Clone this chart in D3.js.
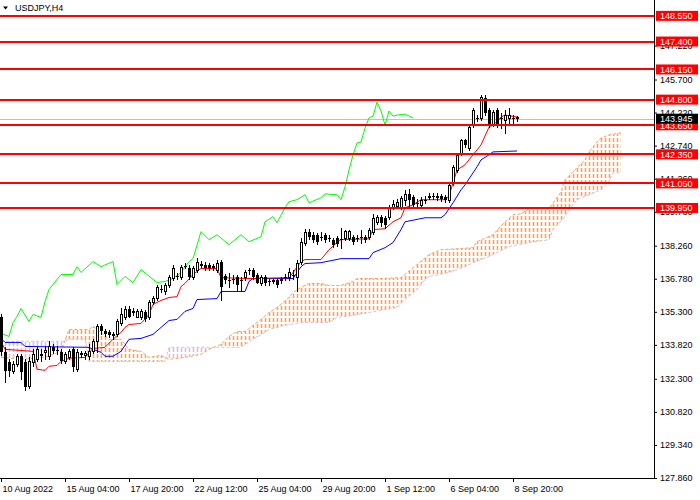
<!DOCTYPE html>
<html lang="en">
<head>
<meta charset="UTF-8">
<title>USDJPY,H4</title>
<style>
  body { margin: 0; background: #fff; }
  svg { display: block; font-family: "Liberation Sans", Arial, sans-serif; font-size: 9px; }
</style>
</head>
<body>
<div id="chart"></div>
<script src="https://cdn.jsdelivr.net/npm/d3@7"></script>
<script>
const width = 700
const height = 500
const plotW = 654
const plotH = 478

// H4 candles, bar 0 = 10 Aug 12:00 ... bar 129 = 9 Sep 00:00
const open = [135.05,133.49,133.04,132.64,132.95,133.31,133.04,131.97,133.04,133.17,
  133.35,133.49,133.31,133.71,133.57,133.49,133.08,133.26,133.62,132.73,
  133.44,133.35,133.31,133.53,133.98,134.65,134.42,134.38,134.29,134.29,
  134.82,135.05,135.41,135.27,135.09,135.09,135.27,135.09,135.72,135.94,
  136.30,136.21,136.52,136.83,136.92,136.88,137.37,137.28,136.88,137.19,
  137.41,137.41,137.41,137.37,137.19,137.55,136.92,136.74,136.79,136.88,
  136.74,136.88,137.15,137.19,136.97,136.61,136.88,136.70,136.70,136.74,
  136.74,136.88,136.88,136.97,136.88,137.55,138.40,138.89,138.75,138.75,
  138.66,138.75,138.62,138.53,138.62,138.57,138.62,138.62,138.66,138.62,
  138.66,138.66,138.66,138.89,139.33,139.56,139.51,139.56,140.00,140.05,
  140.00,140.32,140.58,140.45,140.18,140.09,140.32,140.45,140.49,140.45,
  140.49,140.45,140.32,141.08,141.65,142.37,142.99,142.64,143.66,143.98,
  143.98,144.87,144.33,143.71,144.33,143.98,143.89,143.98,143.98,144.02]
const high = [135.18,133.71,133.17,133.08,133.40,133.40,133.17,133.26,133.62,133.71,
  133.62,133.75,133.98,133.84,133.75,133.62,133.49,133.62,133.71,133.62,
  133.53,133.53,133.84,134.07,134.74,134.74,134.51,134.47,134.38,134.96,
  135.49,135.54,135.54,135.45,135.41,135.41,135.36,135.85,136.03,136.48,
  136.48,136.57,136.97,137.41,137.06,137.41,137.50,137.41,137.37,137.73,
  137.59,137.55,137.50,137.46,137.64,137.64,137.01,137.06,136.97,136.97,
  136.88,137.19,137.28,137.28,137.06,136.97,136.97,136.79,136.79,136.79,
  136.88,137.01,137.28,137.19,137.64,138.62,139.02,139.02,138.89,138.84,
  138.89,138.84,138.75,138.62,138.71,139.07,138.98,138.98,138.75,138.75,
  138.98,138.75,139.07,139.69,139.65,139.65,139.60,140.09,140.32,140.36,
  140.49,140.76,140.81,140.54,140.36,140.45,140.49,140.63,140.63,140.63,
  140.58,140.54,141.03,141.88,142.37,143.04,143.04,143.66,144.42,144.11,
  145.00,145.00,144.42,144.33,144.42,144.20,144.33,144.42,144.11,144.07]
const low = [133.35,132.15,132.41,132.55,132.86,132.28,131.79,131.88,132.86,133.08,
  133.08,133.17,133.17,133.44,133.40,132.99,132.99,133.17,132.64,132.64,
  133.26,133.17,133.17,133.44,133.49,134.29,134.20,134.16,134.07,134.20,
  134.69,134.96,135.05,135.14,135.05,135.00,134.87,134.96,135.63,135.85,
  136.17,136.12,136.43,136.74,136.79,136.79,137.24,136.79,136.79,137.10,
  137.32,137.19,137.19,137.19,137.10,135.85,136.61,136.39,136.61,136.21,
  136.21,136.74,137.01,136.79,136.57,136.52,136.52,136.52,136.61,136.43,
  136.61,136.74,136.74,136.79,136.21,137.46,138.31,138.57,138.44,138.35,
  138.53,138.44,138.49,138.22,138.26,138.17,138.53,138.53,138.35,138.49,
  138.40,138.44,138.57,138.80,139.24,139.15,139.07,139.47,139.91,139.96,
  139.91,140.09,140.05,139.96,140.00,140.00,140.18,140.36,140.36,140.32,
  140.27,140.23,140.23,140.98,141.57,142.33,142.68,142.55,143.57,143.84,
  143.89,144.11,143.57,143.62,143.57,143.53,143.31,143.71,143.71,143.84]
const close = [133.49,132.64,132.64,132.95,133.31,132.59,131.92,133.08,133.40,133.62,
  133.40,133.57,133.75,133.53,133.53,133.08,133.40,133.53,132.82,133.49,
  133.35,133.44,133.53,133.98,134.65,134.42,134.29,134.25,134.20,134.87,
  135.18,135.41,135.09,135.32,135.32,135.32,134.96,135.76,135.94,136.39,
  136.28,136.52,136.88,137.28,136.88,137.32,137.35,136.88,137.28,137.55,
  137.46,137.28,137.28,137.28,137.50,136.43,136.74,136.72,136.74,136.52,
  136.70,137.10,137.13,136.88,136.61,136.88,136.61,136.66,136.74,136.52,
  136.76,136.86,137.10,136.95,137.50,138.44,138.89,138.66,138.53,138.44,
  138.64,138.53,138.60,138.31,138.35,138.55,138.93,138.93,138.44,138.60,
  138.64,138.53,138.98,139.51,139.56,139.29,139.20,140.00,140.14,140.23,
  140.40,140.58,140.32,140.09,140.16,140.32,140.30,140.49,140.47,140.49,
  140.36,140.32,140.98,141.79,142.33,142.99,142.77,143.57,144.33,143.93,
  144.91,144.20,143.66,144.24,143.66,143.96,144.11,144.11,143.96,143.945]

// Ichimoku lines as [bar, price]
const tenkan = [[0,133.98],[1,133.62],[8,133.53],[9,132.73],[11,132.68],[12,132.86],[14,132.90],
  [15,133.08],[17,133.22],[21,133.26],[23,133.66],[26,133.71],[28,134.07],[30,134.38],[31,134.60],
  [32,134.73],[35,134.78],[37,135.18],[38,135.63],[40,135.81],[42,135.94],[44,135.98],[45,136.43],
  [46,136.57],[48,136.97],[50,137.24],[54,137.24],[55,136.83],[62,136.79],[72,136.83],[73,137.06],
  [75,137.55],[76,137.64],[80,137.64],[82,138.08],[84,138.40],[85,138.53],[92,138.57],[93,138.98],
  [96,139.02],[98,139.33],[100,139.51],[101,139.96],[103,140.09],[105,140.32],[111,140.32],
  [112,140.49],[114,141.65],[116,141.88],[118,142.33],[120,142.77],[122,143.57],[124,143.80],
  [125,144.02],[126,144.11],[129,144.02]]
const kijun = [[0,134.11],[1,133.93],[5,133.93],[6,133.75],[22,133.71],[23,133.62],[25,133.49],
  [26,133.31],[28,133.31],[30,133.53],[32,134.07],[35,134.11],[38,134.29],[40,134.60],[42,134.91],
  [44,134.96],[46,135.32],[48,135.45],[49,135.85],[54,135.89],[55,136.21],[61,136.21],[62,136.66],
  [63,136.79],[73,136.79],[75,137.32],[76,137.46],[80,137.50],[85,137.68],[92,137.68],[93,137.95],
  [96,138.17],[98,138.40],[100,138.98],[101,139.33],[106,139.51],[110,139.51],[111,139.65],
  [113,140.18],[115,140.76],[116,140.98],[119,141.79],[120,142.10],[122,142.33],[123,142.46],
  [129,142.50]]
const chikou = [[0,134.33],[2,134.20],[3,134.82],[4,135.09],[5,135.45],[7,134.87],[8,135.18],
  [10,135.05],[11,135.76],[12,136.30],[15,136.97],[18,136.97],[19,137.32],[20,137.06],[23,137.55],
  [25,137.32],[28,137.55],[29,136.52],[31,136.88],[33,136.61],[35,137.19],[39,136.61],[41,136.66],
  [43,136.79],[45,137.06],[47,137.55],[48,137.68],[50,138.89],[52,138.53],[54,138.75],[57,138.31],
  [60,138.75],[62,138.44],[65,138.66],[66,139.33],[68,139.56],[69,139.29],[71,139.96],[72,140.23],
  [74,140.32],[76,140.54],[77,140.18],[80,140.41],[81,140.58],[84,140.54],[85,140.32],[86,140.89],
  [87,141.65],[88,142.33],[89,142.86],[90,142.90],[91,143.53],[92,143.98],[93,144.06],[94,144.69],
  [95,144.29],[96,143.66],[97,144.29],[98,144.06],[99,144.11],[101,144.15],[103,143.98]]
const spanA = [[0,133.26],[5,133.17],[11,133.26],[15,133.53],[17,134.51],[22,134.51],[23,134.65],
  [25,134.38],[27,134.07],[30,134.07],[32,133.62],[35,133.53],[37,133.26],[40,133.35],[42,133.17],
  [46,133.26],[50,133.40],[52,133.62],[55,133.84],[57,134.20],[59,134.42],[61,134.42],[65,134.96],
  [67,135.27],[69,135.49],[72,135.94],[73,136.16],[75,136.39],[77,136.57],[80,136.57],[82,136.48],
  [85,136.48],[88,136.66],[89,136.79],[95,136.79],[100,136.83],[104,137.41],[107,137.86],
  [110,138.08],[118,138.17],[119,138.44],[123,138.75],[125,139.15],[128,139.65],[130,139.69],
  [132,139.91],[137,139.91],[138,140.18],[140,140.67],[141,141.21],[143,141.57],[146,142.10],
  [147,142.46],[149,142.90],[150,143.08],[152,143.22],[155,143.31]]
const spanB = [[0,133.98],[16,133.98],[17,134.07],[21,134.07],[22,133.08],[41,133.08],[42,133.71],
  [60,133.71],[63,134.07],[66,134.38],[67,134.51],[70,134.65],[72,134.73],[75,134.82],[82,134.82],
  [84,135.05],[88,135.14],[92,135.27],[96,135.40],[99,135.49],[101,135.85],[104,136.30],
  [106,136.74],[107,136.88],[112,137.06],[116,137.32],[118,137.50],[122,137.77],[127,138.22],
  [132,138.40],[137,138.53],[138,138.98],[141,139.56],[142,139.87],[144,140.32],[147,140.54],
  [150,140.76],[152,141.12],[153,141.52],[155,141.52]]

const levels = [148.55, 147.40, 146.15, 144.80, 143.65, 142.35, 141.05, 139.95]
const lastPrice = 143.945
const priceTicks = [127.86, 129.34, 130.82, 132.30, 133.82, 135.30, 136.78, 138.26,
  139.78, 141.26, 142.74, 144.22, 145.70, 147.22]
const dateTicks = [0, 16, 32, 48, 64, 80, 96, 112, 128]
const dateLabels = ["10 Aug 2022", "15 Aug 04:00", "17 Aug 20:00", "22 Aug 12:00",
  "25 Aug 04:00", "29 Aug 20:00", "1 Sep 12:00", "6 Sep 04:00", "8 Sep 20:00"]

const x = d3.scaleLinear().domain([0, 163.25]).range([1, plotW])
const y = d3.scaleLinear().domain([127.86, 149.26]).range([plotH, 0])

const svg = d3.select("#chart").append("svg")
    .attr("width", width)
    .attr("height", height)
svg.append("rect").attr("width", width).attr("height", height).attr("fill", "#fff")
const defs = svg.append("defs")

const px = d => x(d[0])
const py = d => y(d[1])
const clip = (id, gen, data) => defs.append("clipPath").attr("id", id)
    .append("path").attr("d", gen(data))
const above = d3.area().x(px).y0(-1).y1(py)
const below = d3.area().x(px).y0(py).y1(plotH + 1)
clip("aboveA", above, spanA)
clip("aboveB", above, spanB)
clip("belowA", below, spanA)
clip("belowB", below, spanB)
defs.append("clipPath").attr("id", "plot")
    .append("rect").attr("width", plotW).attr("height", plotH)

const chart = svg.append("g").attr("clip-path", "url(#plot)")

// bid line
chart.append("line")
    .attr("x1", 0).attr("x2", plotW)
    .attr("y1", Math.round(y(lastPrice)) + 0.5).attr("y2", Math.round(y(lastPrice)) + 0.5)
    .attr("stroke", "#C0C0C0")

// cloud: dotted bar columns, orange where span A is on top, thistle where span B is
const cloudBars = d3.range(spanA[spanA.length - 1][0] + 1)
const cloud = (outer, inner, color) => {
    chart.append("g").attr("clip-path", `url(#${outer})`)
        .append("g").attr("clip-path", `url(#${inner})`)
        .selectAll("line")
        .data(cloudBars)
        .enter()
        .append("line")
        .attr("x1", i => Math.round(x(i)) + 0.5)
        .attr("x2", i => Math.round(x(i)) + 0.5)
        .attr("y1", 0).attr("y2", plotH)
        .attr("stroke", color)
        .attr("stroke-width", 1.6)
        .attr("stroke-dasharray", "4,2")
}
cloud("aboveB", "belowA", "#F4A460")
cloud("aboveA", "belowB", "#D8BFD8")

const line = d3.line().x(px).y(py)
const drawLine = (data, color, dash) => {
    chart.append("path")
        .datum(data)
        .attr("fill", "none")
        .attr("stroke", color)
        .attr("stroke-width", 1)
        .attr("stroke-dasharray", dash)
        .attr("d", line)
}
drawLine(spanB, "#D8BFD8", "3,2")
drawLine(spanA, "#F4A460", "3,2")
drawLine(chikou, "#00FF00", null)
drawLine(kijun, "#0000FF", null)
drawLine(tenkan, "#FF0000", null)

// candles
const bars = d3.range(close.length)
const bull = i => close[i] > open[i]
const candles = chart.append("g").attr("shape-rendering", "crispEdges")
candles.selectAll("line.wick")
    .data(bars)
    .enter()
    .append("line")
    .attr("class", "wick")
    .attr("x1", i => Math.round(x(i)) + 0.5)
    .attr("x2", i => Math.round(x(i)) + 0.5)
    .attr("y1", i => Math.round(y(high[i])))
    .attr("y2", i => Math.round(y(low[i])) + 1)
    .attr("stroke", "#000")
candles.selectAll("rect.body")
    .data(bars)
    .enter()
    .append("rect")
    .attr("class", "body")
    .attr("x", i => Math.round(x(i)) - (bull(i) ? 0.5 : 1))
    .attr("y", i => Math.round(y(Math.max(open[i], close[i]))) + (bull(i) ? 0.5 : 0))
    .attr("width", i => bull(i) ? 2 : 3)
    .attr("height", i => Math.max(1,
        Math.round(y(Math.min(open[i], close[i]))) - Math.round(y(Math.max(open[i], close[i])))))
    .attr("fill", i => bull(i) ? "#fff" : "#000")
    .attr("stroke", i => bull(i) ? "#000" : "none")

// horizontal levels
chart.append("g").attr("shape-rendering", "crispEdges")
    .selectAll("line")
    .data(levels)
    .enter()
    .append("line")
    .attr("x1", 0).attr("x2", plotW)
    .attr("y1", d => Math.round(y(d)))
    .attr("y2", d => Math.round(y(d)))
    .attr("stroke", "#FF0000")
    .attr("stroke-width", 2)

// frame
svg.append("path")
    .attr("d", `M0,${plotH + 0.5}H${plotW + 0.5}V0`)
    .attr("fill", "none")
    .attr("stroke", "#000")

// axes
const yAxis = svg.append("g")
    .attr("transform", `translate(${plotW},0)`)
    .call(d3.axisRight(y).tickValues(priceTicks).tickFormat(d3.format(".3f"))
        .tickSize(3).tickPadding(3))
    .attr("font-family", null).attr("font-size", null)
yAxis.select(".domain").remove()

const xAxis = svg.append("g")
    .attr("transform", `translate(0,${plotH})`)
    .call(d3.axisBottom(x).tickValues(dateTicks).tickFormat((d, k) => dateLabels[k])
        .tickSize(4).tickPadding(4))
    .attr("font-family", null).attr("font-size", null)
xAxis.select(".domain").remove()
xAxis.selectAll("text").attr("text-anchor", "start").attr("dx", 1)

// price labels on the right scale
const tag = (price, color) => {
    const cy = y(price)
    svg.append("rect")
        .attr("x", plotW + 2).attr("y", cy - 5)
        .attr("width", 42).attr("height", 10)
        .attr("fill", color)
    svg.append("text")
        .attr("x", plotW + 6).attr("y", cy + 3.3)
        .attr("fill", "#fff")
        .text(d3.format(".3f")(price))
}
levels.forEach(l => tag(l, "#FF0000"))
tag(lastPrice, "#000")

// title
svg.append("path").attr("d", "M3,6.5H8L5.5,9.5Z").attr("fill", "#000")
svg.append("text").attr("x", 15).attr("y", 10.5).attr("fill", "#000").text("USDJPY,H4")
</script>
</body>
</html>
